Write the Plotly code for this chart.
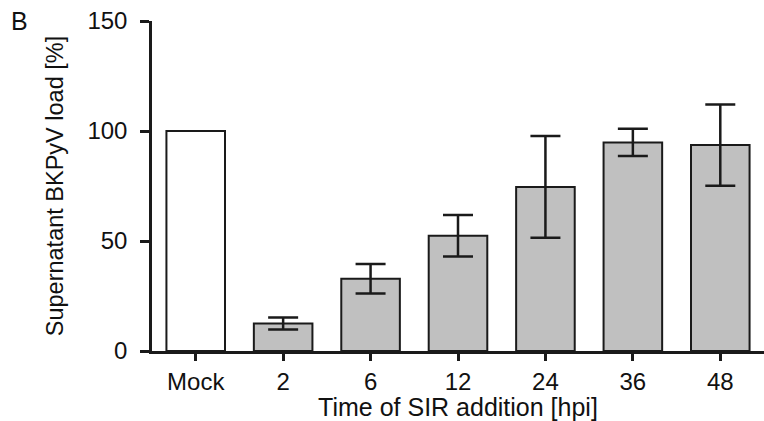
import plotly.graph_objects as go

# Supernatant BKPyV load after SIR addition at different time points
categories = ["Mock", "2", "6", "12", "24", "36", "48"]
mock_value = [100]
time_labels = ["2", "6", "12", "24", "36", "48"]
load_mean = [12.5, 32.8, 52.4, 74.6, 94.8, 93.6]
load_err = [2.7, 6.7, 9.4, 23.1, 6.2, 18.5]

font_family = "Liberation Sans, Arial, Helvetica, sans-serif"
text_color = "#111111"

fig = go.Figure()

fig.add_trace(go.Bar(
    x=["Mock"], y=mock_value,
    width=0.67,
    marker=dict(color="white", line=dict(color="#1a1a1a", width=2)),
    showlegend=False,
))

fig.add_trace(go.Bar(
    x=time_labels, y=load_mean,
    width=0.67,
    marker=dict(color="#c0c0c0", line=dict(color="#1a1a1a", width=2)),
    error_y=dict(type="data", array=load_err, visible=True,
                 color="#1a1a1a", thickness=2.5, width=15),
    showlegend=False,
))

fig.update_layout(
    width=764, height=421,
    margin=dict(l=152, r=0, t=21, b=70),
    paper_bgcolor="white", plot_bgcolor="white",
    barmode="overlay",
    font=dict(family=font_family, size=24, color=text_color),
    xaxis=dict(
        type="category",
        categoryorder="array", categoryarray=categories,
        range=[-0.5, 6.5],
        showline=True, linecolor="#1a1a1a", linewidth=2.5,
        ticks="outside", ticklen=7, tickwidth=2.5, tickcolor="#1a1a1a",
        showgrid=False, zeroline=False,
        tickfont=dict(size=24),
        title=dict(text="Time of SIR addition [hpi]", font=dict(size=25), standoff=4),
    ),
    yaxis=dict(
        range=[0, 150],
        tickvals=[0, 50, 100, 150],
        showline=True, linecolor="#1a1a1a", linewidth=2.5,
        ticks="outside", ticklen=9, tickwidth=2.5, tickcolor="#1a1a1a",
        showgrid=False, zeroline=False,
        tickfont=dict(size=24),
        ticklabelstandoff=8,
        title=dict(text="Supernatant BKPyV load [%]", font=dict(size=23.5), standoff=18),
    ),
    annotations=[dict(
        text="B", xref="paper", yref="paper",
        x=(19 - 152) / 612, y=1.0, xanchor="center", yanchor="middle",
        showarrow=False, font=dict(size=25),
    )],
)

fig.write_html("out.html")
